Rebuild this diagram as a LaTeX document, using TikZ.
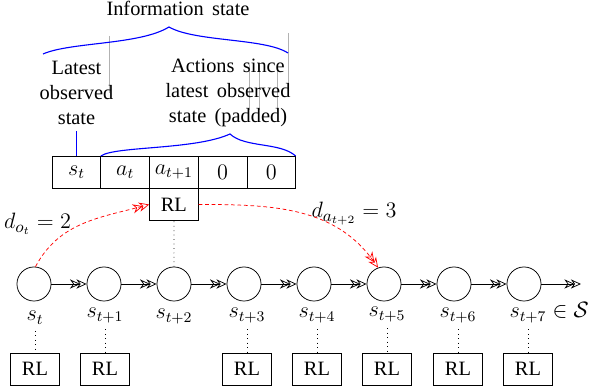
\documentclass[tikz,border=0pt]{standalone}
\usepackage[no-math]{fontspec}
\setmainfont{Liberation Serif}
\usetikzlibrary{arrows.meta}
\newcommand\widewordspace{\spaceskip=4.5pt plus 1pt\relax}
\begin{document}
\begin{tikzpicture}[x=0.54pt,y=-0.54pt,
  every node/.style={font=\fontsize{11}{13.5}\selectfont},
  cell/.style={draw, minimum width=26.3pt, minimum height=17.3pt, inner sep=0pt, outer sep=0pt, font=\fontsize{11.5}{13}\selectfont},
  rlbox/.style={draw, minimum width=26.3pt, minimum height=17.3pt, inner sep=0pt},
  stnode/.style={circle, draw, minimum size=18.4pt, inner sep=0pt},
  slabel/.style={anchor=base, font=\fontsize{11.5}{13}\selectfont},
  dlabel/.style={anchor=base, font=\fontsize{12.5}{14}\selectfont},
  chainarrow/.style={-{Stealth[open,length=5.5pt,width=5pt,sep=-2pt]Stealth[open,length=5.5pt,width=5pt]}},
  redarrow/.style={red, dash pattern=on 2pt off 1.5pt, -{Stealth[open,length=5.5pt,width=5pt,sep=-2pt]Stealth[open,length=5.5pt,width=5pt]}},
  bluebrace/.style={blue, line width=0.6pt},
  guide/.style={gray!60, line width=0.3pt},
  txt/.style={align=center, font=\fontsize{11}{13.5}\selectfont\widewordspace}
]
\useasboundingbox (0,0) rectangle (590,388);

% guide lines
\draw[guide] (109,36) -- (109,93);
\draw[guide] (249,65) -- (249,110);
\draw[guide] (259,65) -- (259,110);
\draw[guide] (277,65) -- (277,112);
\draw[guide] (288,33) -- (288,95);

% texts
\node[txt] (info) at (178,8) {Information state};
\node[txt] (latest) at (76.5,93) {Latest\\observed\\state};
\node[txt] (actions) at (228,93) {Actions since\\latest observed\\state (padded)};

% table
\node[cell] (c1) at (76.5,172) {$s_t$};
\node[cell] (c2) at (125.2,172) {$a_t$};
\node[cell] (c3) at (173.9,172) {$a_{t+1}$};
\node[cell] (c4) at (222.6,172) {$0$};
\node[cell] (c5) at (271.3,172) {$0$};
\node[rlbox] (rltop) at (173.9,204.5) {RL};

% braces
\coordinate (b1s) at (43,54);
\coordinate (b1t) at (169,27);
\coordinate (b1e) at (288,53);
\draw[bluebrace] (b1s) .. controls (70,42) and (140,45) .. (b1t)
                       .. controls (195,42) and (265,38) .. (b1e);
\coordinate (b2t) at (230,134);
\draw[bluebrace] (c2.north west) .. controls (115,146) and (195,150) .. (b2t)
                                 .. controls (245,148) and (280,142) .. (c5.north east);
\draw[blue, line width=0.6pt] (latest.south) -- (c1.north);

% chain
\foreach \i in {0,...,7} {
  \node[stnode] (n\i) at ({34+70*\i},284) {};
}
\coordinate (end) at (581,284);
\foreach \i/\j in {0/1,1/2,2/3,3/4,4/5,5/6,6/7} {
  \draw[chainarrow] (n\i) -- (n\j);
}
\draw[chainarrow] (n7) -- (end);

% labels
\node[slabel] (l0) at (35,321) {$s_t$};
\node[slabel] (l1) at (105,318) {$s_{t+1}$};
\node[slabel] (l2) at (174,319) {$s_{t+2}$};
\node[slabel] (l3) at (247,318) {$s_{t+3}$};
\node[slabel] (l4) at (317,318) {$s_{t+4}$};
\node[slabel] (l5) at (387,317) {$s_{t+5}$};
\node[slabel] (l6) at (458,318) {$s_{t+6}$};
\node[slabel] (l7) at (528,318) {$s_{t+7}\rlap{${}\in\mathcal{S}$}$};

% bottom RL boxes
\node[rlbox] (r0) at (35,369) {RL};
\node[rlbox] (r1) at (105,369) {RL};
\node[rlbox] (r3) at (247,369) {RL};
\node[rlbox] (r4) at (317,369) {RL};
\node[rlbox] (r5) at (387,369) {RL};
\node[rlbox] (r6) at (458,369) {RL};
\node[rlbox] (r7) at (528,369) {RL};
\foreach \i in {0,1,3,4,5,6,7} {
  \draw[dotted] (l\i) -- (r\i);
}
\draw[dotted] (n2.north) -- (rltop.south);

% delays
\node[dlabel] (do) at (37.5,229) {$d_{o_t}=2$};
\node[dlabel] (da) at (354,218) {$d_{a_{t+2}}=3$};
\draw[redarrow] (n0.85) to[out=62,in=195] (rltop.west);
\draw[redarrow] (rltop.east) to[out=0,in=125] (n5.110);
\end{tikzpicture}
\end{document}
